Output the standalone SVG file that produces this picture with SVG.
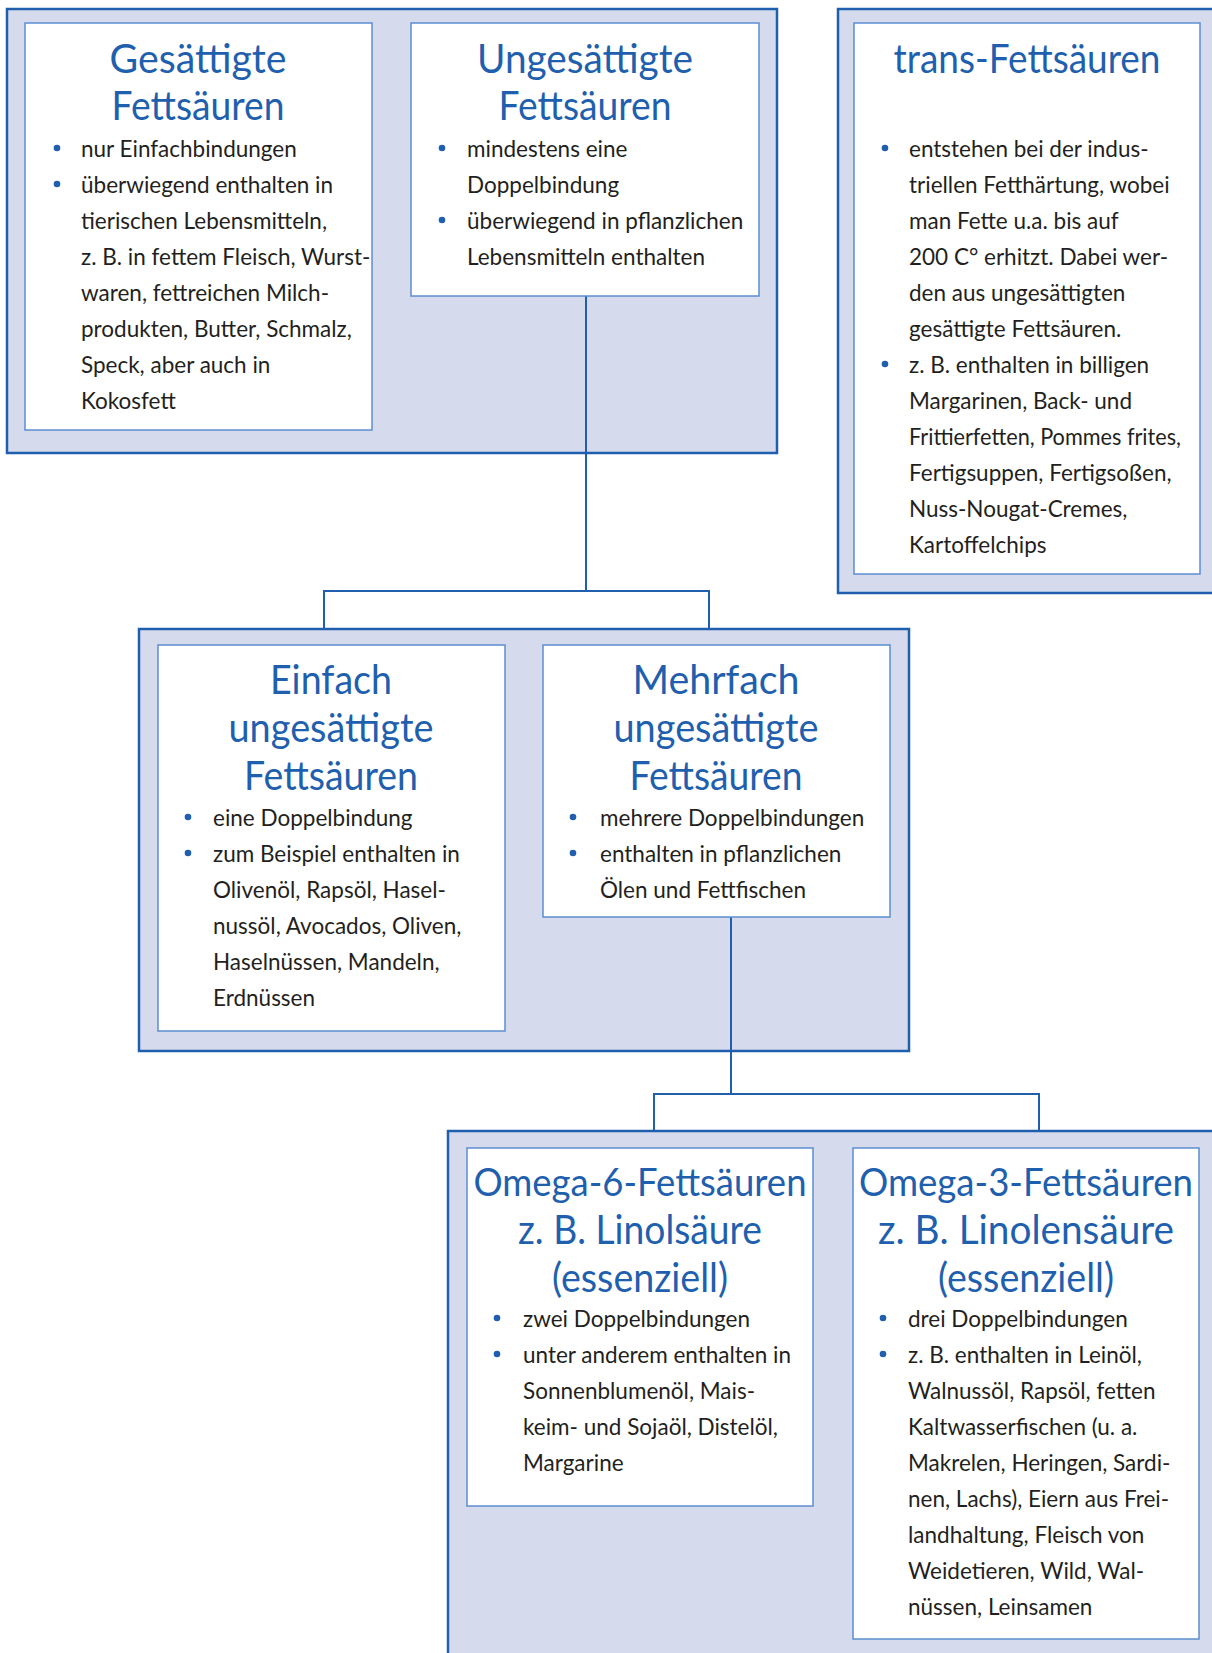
<svg xmlns="http://www.w3.org/2000/svg" width="1212" height="1653" viewBox="0 0 1212 1653">
<style>
.outer{fill:#d5daed;stroke:#1f5fae;stroke-width:2.5}
.inner{fill:#ffffff;stroke:#5b8fd0;stroke-width:1.5}
.title{font-family:Lato,"Open Sans",sans-serif;font-size:40px;fill:#1f60ae;text-anchor:middle}
.tsm{font-size:38px}
.body{font-family:Lato,"Open Sans",sans-serif;font-size:22.5px;fill:#231f20}
.bul{fill:#1f5fae}
.conn{fill:none;stroke:#1f5fae;stroke-width:2}
</style>
<rect width="1212" height="1653" fill="#ffffff"/>
<g id="groups">
<rect class="outer" x="7" y="9" width="770" height="444"/>
<rect class="outer" x="838" y="9" width="390" height="584"/>
<rect class="outer" x="139" y="629" width="770" height="422"/>
<rect class="outer" x="448" y="1131" width="780" height="540"/>
</g>
<g id="connectors">
<path class="conn" d="M586,296 V591 M324,629 V591 H709 V629"/>
<path class="conn" d="M731,917 V1094 M654,1131 V1094 H1039 V1131"/>
</g>
<g id="gesaettigte">
<rect class="inner" x="25" y="23" width="347" height="407"/>
<text class="title" x="198" y="73" textLength="177" lengthAdjust="spacingAndGlyphs">Gesättigte</text>
<text class="title" x="198" y="120" textLength="173" lengthAdjust="spacingAndGlyphs">Fettsäuren</text>
<circle class="bul" cx="57" cy="148" r="3.3"/>
<circle class="bul" cx="57" cy="184" r="3.3"/>
<text class="body"><tspan x="81" y="157">nur Einfachbindungen</tspan><tspan x="81" y="193">überwiegend enthalten in</tspan><tspan x="81" y="229">tierischen Lebensmitteln,</tspan><tspan x="81" y="265">z. B. in fettem Fleisch, Wurst-</tspan><tspan x="81" y="301">waren, fettreichen Milch-</tspan><tspan x="81" y="337">produkten, Butter, Schmalz,</tspan><tspan x="81" y="373">Speck, aber auch in</tspan><tspan x="81" y="409">Kokosfett</tspan></text>
</g>
<g id="ungesaettigte">
<rect class="inner" x="411" y="23" width="348" height="273"/>
<text class="title" x="585" y="73" textLength="216" lengthAdjust="spacingAndGlyphs">Ungesättigte</text>
<text class="title" x="585" y="120" textLength="173" lengthAdjust="spacingAndGlyphs">Fettsäuren</text>
<circle class="bul" cx="442" cy="148" r="3.3"/>
<circle class="bul" cx="442" cy="220" r="3.3"/>
<text class="body"><tspan x="467" y="157">mindestens eine</tspan><tspan x="467" y="193">Doppelbindung</tspan><tspan x="467" y="229">überwiegend in pflanzlichen</tspan><tspan x="467" y="265">Lebensmitteln enthalten</tspan></text>
</g>
<g id="trans">
<rect class="inner" x="854" y="23" width="346" height="551"/>
<text class="title" x="1027" y="73" textLength="267" lengthAdjust="spacingAndGlyphs">trans-Fettsäuren</text>
<circle class="bul" cx="885" cy="148" r="3.3"/>
<circle class="bul" cx="885" cy="364" r="3.3"/>
<text class="body"><tspan x="909" y="157">entstehen bei der indus-</tspan><tspan x="909" y="193">triellen Fetthärtung, wobei</tspan><tspan x="909" y="229">man Fette u.a. bis auf</tspan><tspan x="909" y="265">200 C° erhitzt. Dabei wer-</tspan><tspan x="909" y="301">den aus ungesättigten</tspan><tspan x="909" y="337">gesättigte Fettsäuren.</tspan><tspan x="909" y="373">z. B. enthalten in billigen</tspan><tspan x="909" y="409">Margarinen, Back- und</tspan><tspan x="909" y="445" textLength="272" lengthAdjust="spacingAndGlyphs">Frittierfetten, Pommes frites,</tspan><tspan x="909" y="481">Fertigsuppen, Fertigsoßen,</tspan><tspan x="909" y="517">Nuss-Nougat-Cremes,</tspan><tspan x="909" y="553">Kartoffelchips</tspan></text>
</g>
<g id="einfach">
<rect class="inner" x="158" y="645" width="347" height="386"/>
<text class="title" x="331" y="694" textLength="122" lengthAdjust="spacingAndGlyphs">Einfach</text>
<text class="title" x="331" y="742" textLength="205" lengthAdjust="spacingAndGlyphs">ungesättigte</text>
<text class="title" x="331" y="790" textLength="174" lengthAdjust="spacingAndGlyphs">Fettsäuren</text>
<circle class="bul" cx="188" cy="817" r="3.3"/>
<circle class="bul" cx="188" cy="853" r="3.3"/>
<text class="body"><tspan x="213" y="826">eine Doppelbindung</tspan><tspan x="213" y="862">zum Beispiel enthalten in</tspan><tspan x="213" y="898">Olivenöl, Rapsöl, Hasel-</tspan><tspan x="213" y="934">nussöl, Avocados, Oliven,</tspan><tspan x="213" y="970">Haselnüssen, Mandeln,</tspan><tspan x="213" y="1006">Erdnüssen</tspan></text>
</g>
<g id="mehrfach">
<rect class="inner" x="543" y="645" width="347" height="272"/>
<text class="title" x="716" y="694" textLength="167" lengthAdjust="spacingAndGlyphs">Mehrfach</text>
<text class="title" x="716" y="742" textLength="205" lengthAdjust="spacingAndGlyphs">ungesättigte</text>
<text class="title" x="716" y="790" textLength="173" lengthAdjust="spacingAndGlyphs">Fettsäuren</text>
<circle class="bul" cx="573" cy="817" r="3.3"/>
<circle class="bul" cx="573" cy="853" r="3.3"/>
<text class="body"><tspan x="600" y="826">mehrere Doppelbindungen</tspan><tspan x="600" y="862">enthalten in pflanzlichen</tspan><tspan x="600" y="898">Ölen und Fettfischen</tspan></text>
</g>
<g id="omega6">
<rect class="inner" x="467" y="1148" width="346" height="358"/>
<text class="title tsm" x="640" y="1196" textLength="333" lengthAdjust="spacingAndGlyphs">Omega-6-Fettsäuren</text>
<text class="title" x="640" y="1244" textLength="244" lengthAdjust="spacingAndGlyphs">z. B. Linolsäure</text>
<text class="title" x="640" y="1292" textLength="176" lengthAdjust="spacingAndGlyphs">(essenziell)</text>
<circle class="bul" cx="497" cy="1318" r="3.3"/>
<circle class="bul" cx="497" cy="1354" r="3.3"/>
<text class="body"><tspan x="523" y="1327">zwei Doppelbindungen</tspan><tspan x="523" y="1363">unter anderem enthalten in</tspan><tspan x="523" y="1399">Sonnenblumenöl, Mais-</tspan><tspan x="523" y="1435">keim- und Sojaöl, Distelöl,</tspan><tspan x="523" y="1471">Margarine</tspan></text>
</g>
<g id="omega3">
<rect class="inner" x="853" y="1148" width="346" height="491"/>
<text class="title tsm" x="1026" y="1196" textLength="334" lengthAdjust="spacingAndGlyphs">Omega-3-Fettsäuren</text>
<text class="title" x="1026" y="1244" textLength="296" lengthAdjust="spacingAndGlyphs">z. B. Linolensäure</text>
<text class="title" x="1026" y="1292" textLength="176" lengthAdjust="spacingAndGlyphs">(essenziell)</text>
<circle class="bul" cx="883" cy="1318" r="3.3"/>
<circle class="bul" cx="883" cy="1354" r="3.3"/>
<text class="body"><tspan x="908" y="1327">drei Doppelbindungen</tspan><tspan x="908" y="1363">z. B. enthalten in Leinöl,</tspan><tspan x="908" y="1399">Walnussöl, Rapsöl, fetten</tspan><tspan x="908" y="1435">Kaltwasserfischen (u. a.</tspan><tspan x="908" y="1471">Makrelen, Heringen, Sardi-</tspan><tspan x="908" y="1507">nen, Lachs), Eiern aus Frei-</tspan><tspan x="908" y="1543">landhaltung, Fleisch von</tspan><tspan x="908" y="1579">Weidetieren, Wild, Wal-</tspan><tspan x="908" y="1615">nüssen, Leinsamen</tspan></text>
</g>
</svg>
